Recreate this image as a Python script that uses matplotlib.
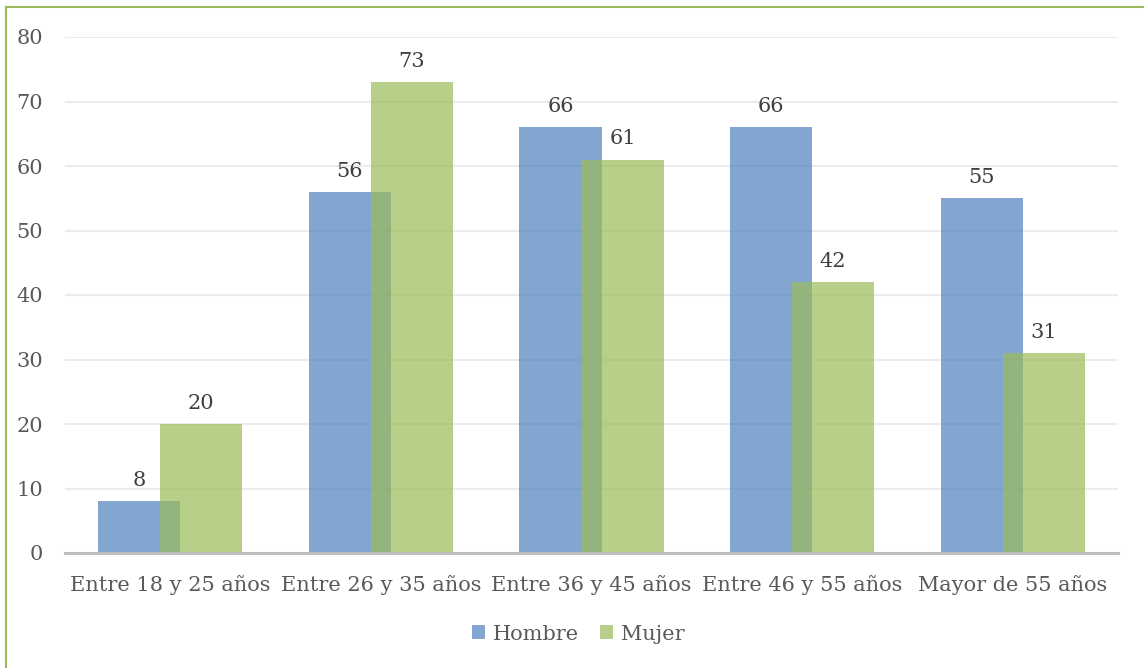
import matplotlib
matplotlib.use("Agg")
import matplotlib.pyplot as plt
from matplotlib.lines import Line2D
from matplotlib.patches import Patch
import numpy as np

categories = ["Entre 18 y 25 años", "Entre 26 y 35 años", "Entre 36 y 45 años",
              "Entre 46 y 55 años", "Mayor de 55 años"]
hombre = [8, 56, 66, 66, 55]
mujer = [20, 73, 61, 42, 31]
series_names = ["Hombre", "Mujer"]
yticks = [0, 10, 20, 30, 40, 50, 60, 70, 80]

plt.rcParams['font.family'] = ['DejaVu Serif']

fig = plt.figure(figsize=(11.44, 6.68), dpi=100)
ax = fig.add_axes([65/1144, 1-553/668, (1118-65)/1144, (553-37)/668])

x = np.arange(len(categories))
w = 0.39
off = 0.147
blue = "#4F81BD"
green = "#9BBB59"
ax.bar(x - off, hombre, w, color=blue, alpha=0.7, zorder=3, linewidth=0)
ax.bar(x + off, mujer, w, color=green, alpha=0.7, zorder=4, linewidth=0)

for xi, v in zip(x - off, hombre):
    ax.annotate(str(v), (xi, v), xytext=(0, 8), textcoords="offset points",
                ha="center", va="bottom", fontsize=15, color="#404040")
for xi, v in zip(x + off, mujer):
    ax.annotate(str(v), (xi, v), xytext=(0, 8), textcoords="offset points",
                ha="center", va="bottom", fontsize=15, color="#404040")

ax.set_xlim(-0.5, len(categories) - 0.5)
ax.set_ylim(0, 80)
ax.set_yticks(yticks)
ax.set_yticklabels([str(t) for t in yticks])
ax.set_xticks(x)
ax.set_xticklabels(categories)
ax.tick_params(axis="both", length=0, labelsize=15, colors="#595959")
ax.tick_params(axis="y", pad=16)
ax.tick_params(axis="x", pad=16)
ax.grid(axis="y", color="#EBEBEB", linewidth=1.5, zorder=0)
ax.set_axisbelow(True)
for s in ["top", "right", "left"]:
    ax.spines[s].set_visible(False)
ax.spines["bottom"].set_color("#BFBFBF")
ax.spines["bottom"].set_linewidth(2.2)
ax.spines["bottom"].set_zorder(5)

handles = [Patch(facecolor=blue, alpha=0.7, linewidth=0),
           Patch(facecolor=green, alpha=0.7, linewidth=0)]
leg = fig.legend(handles, series_names, loc="center", bbox_to_anchor=(578/1144, 1-634/668),
                 ncol=2, frameon=False, fontsize=15, handlelength=0.65, handleheight=0.65,
                 handletextpad=0.35, columnspacing=1.0)
for t in leg.get_texts():
    t.set_color("#595959")

# outer green border (top and left visible)
fig.add_artist(Line2D([6/1144, 1], [1-7/668, 1-7/668], transform=fig.transFigure,
                      color="#9BBB59", linewidth=1.5))
fig.add_artist(Line2D([6/1144, 6/1144], [0, 1-7/668], transform=fig.transFigure,
                      color="#9BBB59", linewidth=1.5))

fig.savefig("out.png", dpi=100)
